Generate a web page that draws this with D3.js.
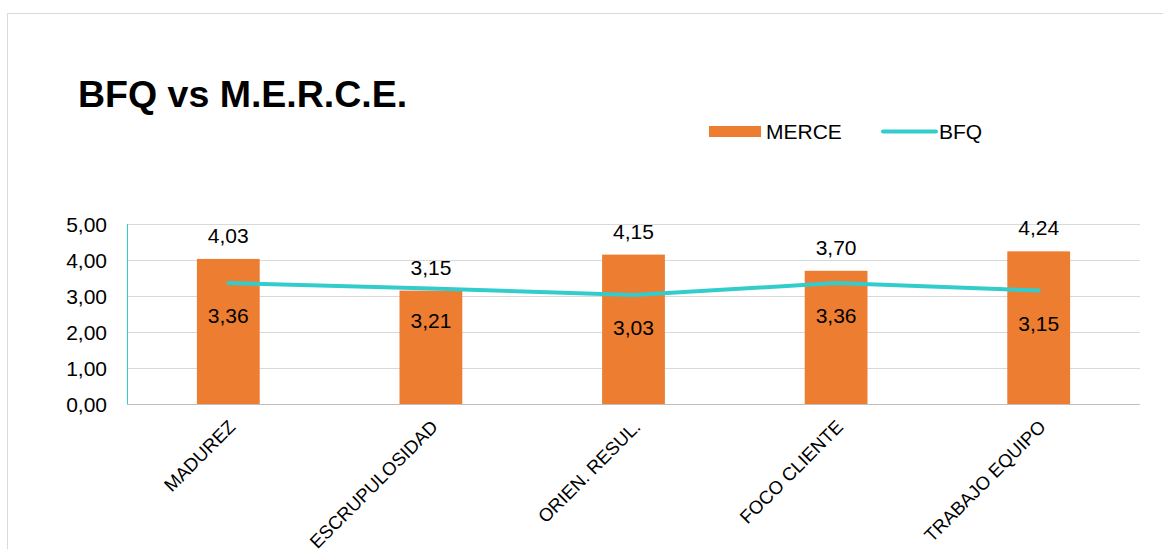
<!DOCTYPE html>
<head>
  <meta charset="utf-8">
  <script src="https://d3js.org/d3.v7.min.js"></script>
  <style>
    body { margin: 0; background: #fff; }
    text { font-family: 'Liberation Sans', Arial, sans-serif; fill: #000; }
    .title { font-size: 37.5px; font-weight: bold; }
    .legend text { font-size: 21px; }
    .y text { font-size: 21px; }
    .x text { font-size: 18.5px; }
    .lbl { font-size: 21px; text-anchor: middle; }
    .y path, .y line { display: none; }
    .x path { stroke: #bfbfbf; }
    .x line { display: none; }
    .grid line { stroke: #d9d9d9; }
  </style>
</head>
<body>
  <script>
    var categories = ["MADUREZ", "ESCRUPULOSIDAD", "ORIEN. RESUL.", "FOCO CLIENTE", "TRABAJO EQUIPO"];
    var merce = [4.03, 3.15, 4.15, 3.70, 4.24];
    var bfq = [3.36, 3.21, 3.03, 3.36, 3.15];
    var yTicks = [0, 1, 2, 3, 4, 5];

    var W = 1163, H = 549;
    var margin = { top: 224, right: 23, bottom: 145, left: 127 };
    var width = W - margin.left - margin.right;
    var height = H - margin.top - margin.bottom;

    var locale = d3.formatLocale({ decimal: ",", thousands: ".", grouping: [3], currency: ["", ""] });
    var fmt = locale.format(".2f");

    var svg = d3.select("body").append("svg")
        .attr("width", W)
        .attr("height", H);

    svg.append("rect")
        .attr("x", 7.5).attr("y", 13.5)
        .attr("width", W + 20).attr("height", H + 20)
        .attr("fill", "none").attr("stroke", "#d9d9d9");

    svg.append("text")
        .attr("class", "title")
        .attr("x", 78).attr("y", 107)
        .text("BFQ vs M.E.R.C.E.");

    // legend
    var legend = svg.append("g").attr("class", "legend");
    legend.append("rect")
        .attr("x", 709).attr("y", 126).attr("width", 52).attr("height", 11)
        .attr("fill", "#ed7d31");
    legend.append("text").attr("x", 766).attr("y", 138.5).text("MERCE");
    legend.append("line")
        .attr("x1", 883).attr("x2", 936).attr("y1", 131.5).attr("y2", 131.5)
        .attr("stroke", "#33cccc").attr("stroke-width", 4).attr("stroke-linecap", "round");
    legend.append("text").attr("x", 939).attr("y", 138.5).text("BFQ");

    var g = svg.append("g")
        .attr("transform", "translate(" + margin.left + "," + margin.top + ")");

    var x = d3.scaleBand()
        .domain(categories)
        .range([0, width]);

    var y = d3.scaleLinear()
        .domain([0, 5])
        .range([height, 0]);

    g.append("g")
        .attr("class", "grid")
      .selectAll("line")
        .data(yTicks.slice(1))
      .enter().append("line")
        .attr("x1", 0).attr("x2", width)
        .attr("y1", function(d) { return y(d) + 0.5; })
        .attr("y2", function(d) { return y(d) + 0.5; });

    g.append("g")
        .attr("class", "y axis")
        .attr("transform", "translate(-17,0)")
        .call(d3.axisLeft(y).tickValues(yTicks).tickSize(0).tickFormat(fmt))
      .selectAll("text")
        .attr("dy", "0.36em");

    // teal left edge
    g.append("line")
        .attr("x1", 0.5).attr("x2", 0.5).attr("y1", 0).attr("y2", height)
        .attr("stroke", "#33cccc").attr("stroke-width", 1);

    var bw = x.bandwidth() * 0.31;

    g.selectAll(".bar")
        .data(merce)
      .enter().append("rect")
        .attr("class", "bar")
        .attr("fill", "#ed7d31")
        .attr("x", function(d, i) { return x(categories[i]) + x.bandwidth() / 2 - bw / 2; })
        .attr("width", bw)
        .attr("y", function(d) { return y(d); })
        .attr("height", function(d) { return height - y(d); });

    var xAxis = g.append("g")
        .attr("class", "x axis")
        .attr("transform", "translate(0," + height + ")")
        .call(d3.axisBottom(x).tickSize(0).tickSizeOuter(0));
    xAxis.select("path").attr("d", "M0,0.5H" + width);
    xAxis.selectAll("text")
        .attr("text-anchor", "end")
        .attr("dy", 0)
        .attr("transform", "translate(6,22) rotate(-45)");

    var line = d3.line()
        .x(function(d, i) { return x(categories[i]) + x.bandwidth() / 2; })
        .y(function(d) { return y(d); });

    g.append("path")
        .datum(bfq)
        .attr("fill", "none")
        .attr("stroke", "#33cccc")
        .attr("stroke-width", 4)
        .attr("stroke-linecap", "round")
        .attr("d", line);

    g.selectAll(".mlbl")
        .data(merce)
      .enter().append("text")
        .attr("class", "lbl")
        .attr("x", function(d, i) { return x(categories[i]) + x.bandwidth() / 2; })
        .attr("y", function(d) { return y(d) - 16; })
        .text(fmt);

    g.selectAll(".blbl")
        .data(bfq)
      .enter().append("text")
        .attr("class", "lbl")
        .attr("x", function(d, i) { return x(categories[i]) + x.bandwidth() / 2; })
        .attr("y", function(d) { return y(d) + 40; })
        .text(fmt);
  </script>
</body>
